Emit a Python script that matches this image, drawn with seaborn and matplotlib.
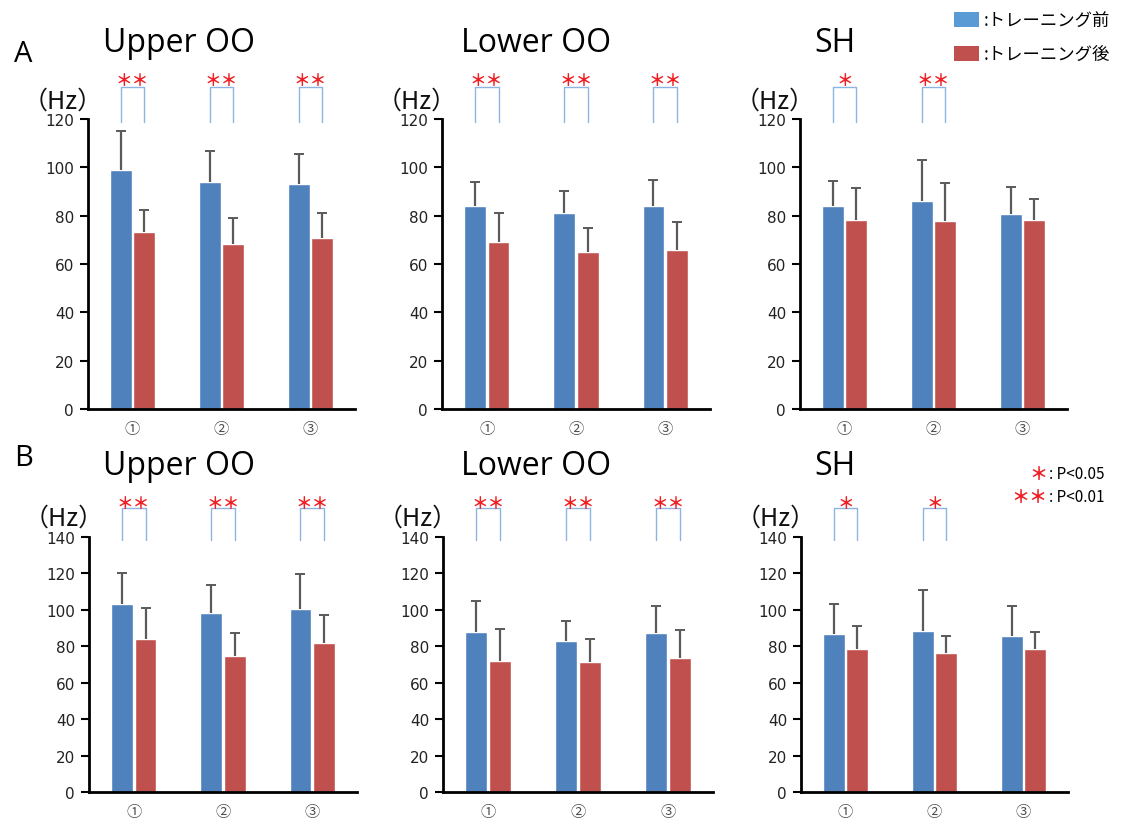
import numpy as np
import pandas as pd
import matplotlib
matplotlib.use("Agg")
import matplotlib.pyplot as plt
from matplotlib.patches import Rectangle
from matplotlib.transforms import blended_transform_factory
import seaborn as sns

# ---- data -------------------------------------------------------------
conditions = ["①", "②", "③"]
phases = ["トレーニング前", "トレーニング後"]

# Row A
a_upper_pre = [99.0, 93.8, 93.2]
a_upper_pre_sd = [15.9, 12.9, 12.2]
a_upper_post = [73.1, 68.3, 70.7]
a_upper_post_sd = [9.2, 10.7, 10.4]

a_lower_pre = [84.1, 81.1, 84.1]
a_lower_pre_sd = [9.7, 9.0, 10.8]
a_lower_post = [69.0, 64.8, 65.9]
a_lower_post_sd = [12.1, 10.1, 11.3]

a_sh_pre = [84.1, 85.9, 80.8]
a_sh_pre_sd = [10.2, 17.0, 11.2]
a_sh_post = [78.2, 77.9, 78.1]
a_sh_post_sd = [13.4, 15.8, 8.7]

# Row B
b_upper_pre = [103.4, 98.3, 100.3]
b_upper_pre_sd = [17.0, 15.4, 19.2]
b_upper_post = [83.8, 74.7, 81.6]
b_upper_post_sd = [17.2, 12.8, 15.6]

b_lower_pre = [87.8, 82.9, 87.1]
b_lower_pre_sd = [17.1, 11.2, 15.0]
b_lower_post = [71.7, 71.4, 73.8]
b_lower_post_sd = [17.6, 12.4, 15.1]

b_sh_pre = [86.6, 88.5, 85.5]
b_sh_pre_sd = [16.6, 22.6, 16.4]
b_sh_post = [78.7, 76.5, 78.7]
b_sh_post_sd = [12.6, 9.0, 9.3]

# significance marks per condition
sig_a_upper = ["**", "**", "**"]
sig_a_lower = ["**", "**", "**"]
sig_a_sh = ["*", "**", ""]
sig_b_upper = ["**", "**", "**"]
sig_b_lower = ["**", "**", "**"]
sig_b_sh = ["*", "*", ""]

panel_titles = ["Upper OO", "Lower OO", "SH"]

# ---- style ------------------------------------------------------------
sns.set_style("white")
plt.rcParams["font.family"] = ["DejaVu Sans", "Noto Sans CJK JP"]
CJK = ["Noto Sans CJK JP", "DejaVu Sans"]

BLUE = "#4F81BD"
RED = "#C0504D"
ERR = "#5A5A5A"
BRACKET = "#8DB3E2"
STAR = "#F01E23"

W, H = 1122, 820
fig = plt.figure(figsize=(W / 100, H / 100), dpi=100)


def px_axes(left, top, right, bottom):
    return fig.add_axes([left / W, 1 - bottom / H, (right - left) / W, (bottom - top) / H])


def draw_panel(ax, pre, pre_sd, post, post_sd, sig, ymax):
    df = pd.DataFrame({
        "cond": conditions * 2,
        "phase": [phases[0]] * 3 + [phases[1]] * 3,
        "hz": list(pre) + list(post),
    })
    sns.barplot(data=df, x="cond", y="hz", hue="phase", hue_order=phases,
                order=conditions, palette=[BLUE, RED], saturation=1,
                width=0.53, gap=0.08, errorbar=None, legend=False, ax=ax)
    # upper-only standard deviation whiskers at the bar centres
    for cont, means, sds in zip(ax.containers, [pre, post], [pre_sd, post_sd]):
        xs = np.array([p.get_x() + p.get_width() / 2 for p in cont.patches])
        tops = np.array(means) + np.array(sds)
        ax.vlines(xs, means, tops, color=ERR, lw=1.6, zorder=1)
        ax.plot(xs, tops, ls="none", marker="_", ms=7, mew=1.4, color=ERR, zorder=1)
    ax.set_xlim(-0.5, 2.5)
    ax.set_ylim(0, ymax)
    ax.set_yticks(np.arange(0, ymax + 1, 20))
    ax.set_xlabel("")
    ax.set_ylabel("")
    for s in ["top", "right"]:
        ax.spines[s].set_visible(False)
    for s in ["left", "bottom"]:
        ax.spines[s].set_color("black")
        ax.spines[s].set_linewidth(2)
    ax.tick_params(axis="y", direction="out", length=6, width=1.5, color="black",
                   labelsize=11, labelcolor="#222222", pad=4, left=True)
    ax.tick_params(axis="x", length=0, pad=8)
    for lab in ax.get_xticklabels():
        lab.set_fontfamily(CJK)
        lab.set_fontsize(11)
        lab.set_color("#505050")

    # significance brackets between the paired bars
    trans = blended_transform_factory(ax.transData, ax.transAxes)
    blue_x = [p.get_x() + p.get_width() / 2 for p in ax.containers[0].patches]
    red_x = [p.get_x() + p.get_width() / 2 for p in ax.containers[1].patches]
    for i, mark in enumerate(sig):
        if not mark:
            continue
        ax.plot([blue_x[i], blue_x[i], red_x[i], red_x[i]],
                [0.988, 1.112, 1.112, 0.988], color=BRACKET, lw=1.0,
                transform=trans, clip_on=False)
        ax.text((blue_x[i] + red_x[i]) / 2, 1.135, mark.replace("*", "＊"),
                transform=trans, ha="center", va="center", color=STAR,
                fontsize=12, fontfamily=CJK, fontweight="bold")
    ax.text(0.055, 1.063 if ymax == 120 else 1.078, "（Hz）", transform=ax.transAxes,
            ha="right", va="center", fontsize=18, fontfamily=CJK, color="#111111")


row_a = [
    (a_upper_pre, a_upper_pre_sd, a_upper_post, a_upper_post_sd, sig_a_upper),
    (a_lower_pre, a_lower_pre_sd, a_lower_post, a_lower_post_sd, sig_a_lower),
    (a_sh_pre, a_sh_pre_sd, a_sh_post, a_sh_post_sd, sig_a_sh),
]
row_b = [
    (b_upper_pre, b_upper_pre_sd, b_upper_post, b_upper_post_sd, sig_b_upper),
    (b_lower_pre, b_lower_pre_sd, b_lower_post, b_lower_post_sd, sig_b_lower),
    (b_sh_pre, b_sh_pre_sd, b_sh_post, b_sh_post_sd, sig_b_sh),
]

lefts_a = [(88, 355), (442, 710), (800, 1067)]
lefts_b = [(89, 357), (443, 713), (801, 1068)]
title_x = [179, 536, 835]

for (l, r), vals in zip(lefts_a, row_a):
    ax = px_axes(l, 120, r, 410)
    draw_panel(ax, *vals, ymax=120)
for (l, r), vals in zip(lefts_b, row_b):
    ax = px_axes(l, 538, r, 793)
    draw_panel(ax, *vals, ymax=140)

# panel titles and row letters
for x, t in zip(title_x, panel_titles):
    fig.text(x / W, 1 - 44 / H, t, ha="center", va="center", fontsize=23,
             fontfamily="Open Sans", color="black")
    fig.text(x / W, 1 - 467 / H, t, ha="center", va="center", fontsize=23,
             fontfamily="Open Sans", color="black")
fig.text(23 / W, 1 - 55 / H, "A", ha="center", va="center", fontsize=21,
         fontfamily="Open Sans", color="black")
fig.text(24 / W, 1 - 459 / H, "B", ha="center", va="center", fontsize=21,
         fontfamily="Open Sans", color="black")

# phase legend
for y0, col, label in [(13, "#5B9BD5", phases[0]), (47, RED, phases[1])]:
    fig.add_artist(Rectangle((954 / W, 1 - (y0 + 15) / H), 25 / W, 15 / H,
                             transform=fig.transFigure, facecolor=col, edgecolor="none"))
    fig.text(984 / W, 1 - (y0 + 8) / H, ":" + label, ha="left", va="center",
             fontsize=12.5, fontfamily=CJK, color="black")

# significance key
for y0, mark, label in [(475, "＊", ": P<0.05"), (498, "＊＊", ": P<0.01")]:
    fig.text(1047 / W, 1 - y0 / H, mark, ha="right", va="center", fontsize=13,
             fontfamily=CJK, color=STAR, fontweight="bold")
    fig.text(1049 / W, 1 - y0 / H, label, ha="left", va="center", fontsize=11,
             fontfamily=CJK, color="black")

fig.savefig("out.png", dpi=100, facecolor="white")
